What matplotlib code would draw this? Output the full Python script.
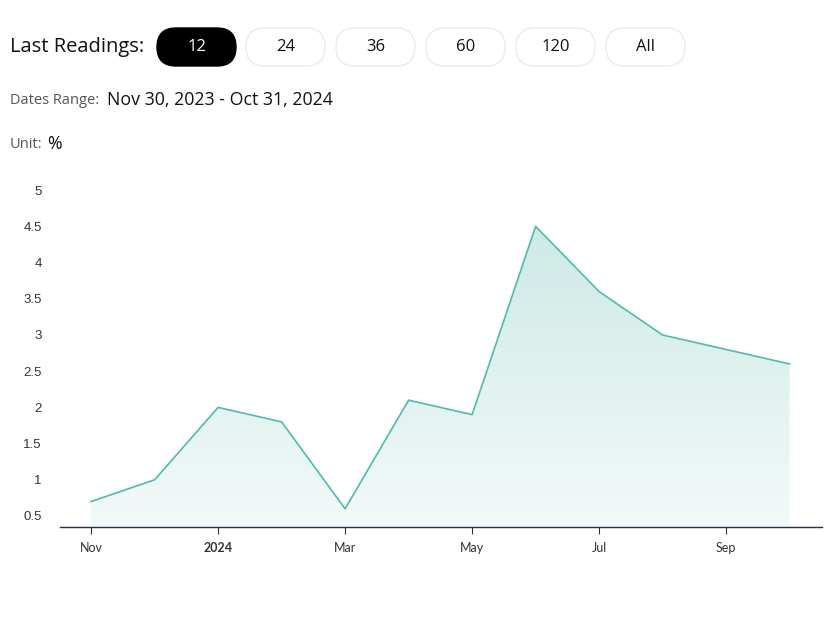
import numpy as np
import matplotlib
matplotlib.use("Agg")
import matplotlib.pyplot as plt
from matplotlib.patches import FancyBboxPatch, Polygon
from matplotlib.colors import LinearSegmentedColormap

# data
months = ["Nov", "Dec", "Jan", "Feb", "Mar", "Apr", "May", "Jun", "Jul", "Aug", "Sep", "Oct"]
values = [0.7, 1.0, 2.0, 1.8, 0.6, 2.1, 1.9, 4.5, 3.6, 3.0, 2.8, 2.6]
tick_idx = [0, 2, 4, 6, 8, 10]
tick_labels = ["Nov", "2024", "Mar", "May", "Jul", "Sep"]
y_ticks = [0.5, 1, 1.5, 2, 2.5, 3, 3.5, 4, 4.5, 5]
buttons = ["12", "24", "36", "60", "120", "All"]

W, H = 832, 623
fig = plt.figure(figsize=(W / 100, H / 100), dpi=100)

# overlay in pixel coordinates for header widgets
ov = fig.add_axes([0, 0, 1, 1])
ov.set_xlim(0, W)
ov.set_ylim(H, 0)
ov.axis("off")

hdr_font = "Open Sans"
ov.text(10, 47, "Last Readings:", fontsize=14.5, family=hdr_font, va="center", color="#111")
bx = [157, 246, 336, 426, 516, 606]
for x0, lab in zip(bx, buttons):
    active = lab == "12"
    p = FancyBboxPatch((x0, 28), 79, 38, boxstyle="round,pad=0,rounding_size=19",
                       fc="#000000" if active else "white",
                       ec="#000000" if active else "#ebebeb", lw=1)
    ov.add_patch(p)
    ov.text(x0 + 39.5, 47, lab, ha="center", va="center", fontsize=12, family=hdr_font,
            color="white" if active else "#111")

ov.text(10, 101, "Dates Range:", fontsize=10.5, family=hdr_font, va="center", color="#555")
ov.text(107, 100, "Nov 30, 2023 - Oct 31, 2024", fontsize=12.8, family=hdr_font,
        va="center", color="#111")
ov.text(10, 145, "Unit:", fontsize=10.5, family=hdr_font, va="center", color="#555")
ov.text(47, 144, "%", fontsize=12.8, family=hdr_font, va="center", color="#111")

# main chart
ymin, ymax = 0.348, 5.2
px_per_unit = 72.4
left, right, bottom_px = 60, 822, 527
top_px = bottom_px - (ymax - ymin) * px_per_unit
ax = fig.add_axes([left / W, 1 - bottom_px / H, (right - left) / W, (bottom_px - top_px) / H])
x = np.arange(len(values))

line_c = "#4dbcad"
# gradient fill under the line
grad = np.linspace(0, 1, 256).reshape(-1, 1)
cmap = LinearSegmentedColormap.from_list("g", ["#f3f9f9", "#cdeae6"])
im = ax.imshow(grad, cmap=cmap, aspect="auto", origin="lower",
               extent=[x[0], x[-1], ymin, max(values)], zorder=1)
poly = Polygon(np.column_stack([np.r_[x[0], x, x[-1]], np.r_[ymin, values, ymin]]),
               closed=True, transform=ax.transData, fc="none", ec="none")
ax.add_patch(poly)
im.set_clip_path(poly)
ax.plot(x, values, color=line_c, lw=1.2, zorder=3)
ax.set_xlim(-0.49, 11.51)
ax.set_ylim(ymin, ymax)

for s in ["top", "right", "left"]:
    ax.spines[s].set_visible(False)
ax.spines["bottom"].set_color("#2b2d42")
ax.spines["bottom"].set_linewidth(1)

ax.set_yticks(y_ticks)
ax.set_yticklabels([f"{v:g}" for v in y_ticks], family="Liberation Sans", fontsize=9.5, color="#333")
ax.tick_params(axis="y", length=0, pad=13)
ax.set_xticks(tick_idx)
ax.set_xticklabels(tick_labels, family="Lato", fontsize=9, color="#333")
ax.tick_params(axis="x", length=5, color="#2b2d42", pad=6)
ax.get_xticklabels()[1].set_fontweight("bold")

# max/last labels on the right
ov.text(798, 206, "4.5", ha="left", va="center", fontsize=10.5, family="Liberation Sans", color="#555")
ov.text(798, 513, "0.6", ha="left", va="center", fontsize=10.5, family="Liberation Sans", color="#555")

fig.savefig("out.png", dpi=100)
